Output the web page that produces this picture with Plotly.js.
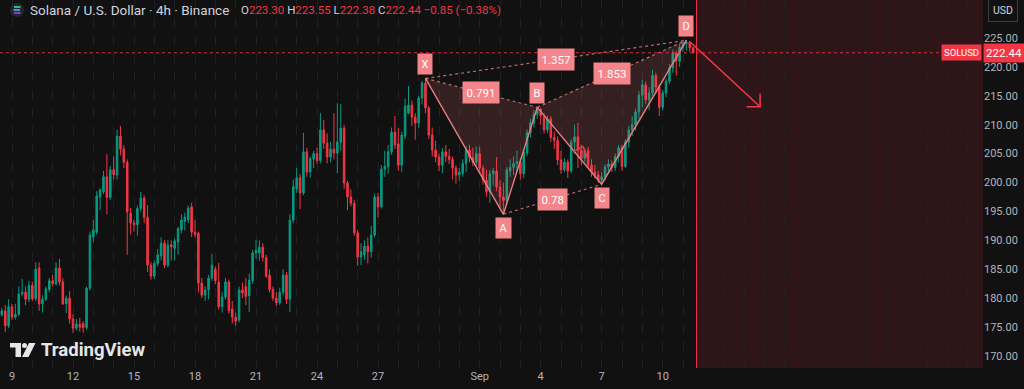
<!DOCTYPE html>
<html>
<head>
<meta charset="utf-8">
<script src="https://cdn.plot.ly/plotly-3.0.1.min.js"></script>
<style>html,body{margin:0;padding:0;background:#111111;}#chart{width:1024px;height:389px;}</style>
</head>
<body>
<div id="chart"></div>
<script>
// ---- Candle data (4h bars, SOL/USD, Binance) ----
const startUTC = Date.UTC(2025, 7, 8, 4, 0); // first bar: 2025-08-08 04:00
const barHours = 4;

const opens = [175.8,175.0,177.1,177.8,175.2,178.5,176.7,177.2,180.7,181.0,179.8,182.2,179.9,185.2,179.0,179.8,181.5,183.0,182.5,185.2,
182.8,179.0,180.0,176.4,174.8,175.5,175.6,174.9,181.7,190.6,191.4,197.5,198.4,201.0,197.4,202.2,201.3,208.0,205.8,203.5,
194.7,193.0,192.7,195.5,197.3,194.0,185.7,183.8,186.0,187.3,189.5,185.7,189.2,188.6,189.7,191.8,193.3,193.5,195.8,191.4,
191.2,182.6,180.5,181.4,183.5,185.0,182.8,178.5,180.2,182.8,178.1,176.7,176.2,181.4,182.0,180.4,183.0,187.8,187.8,188.8,
187.0,184.0,181.5,180.0,179.2,181.0,184.0,179.8,193.5,198.9,200.8,198.2,205.3,201.8,204.1,205.0,203.8,209.1,206.8,204.4,
205.8,205.1,207.0,209.4,199.9,197.5,196.4,191.3,187.1,187.5,189.0,188.0,190.9,197.5,195.8,202.3,202.7,205.3,208.7,206.7,
203.0,208.0,212.0,213.4,211.3,210.3,214.6,217.2,212.9,208.2,205.6,204.4,203.0,205.3,204.5,204.0,202.5,201.3,201.6,203.3,
205.6,204.3,203.5,205.0,202.5,200.4,198.4,201.5,202.0,199.2,197.5,196.9,202.0,202.6,203.3,203.6,201.5,205.1,208.6,210.3,
211.8,212.7,211.5,209.1,211.0,207.8,207.3,203.9,202.2,203.5,202.0,207.0,207.9,205.6,204.2,205.5,203.0,201.8,201.3,200.4,
201.0,202.7,203.2,202.6,204.5,206.0,202.8,207.0,209.1,210.0,212.2,215.1,216.9,214.3,215.5,218.5,216.5,213.0,215.5,217.5,
219.8,222.4,221.0,223.4,224.0,224.3,223.30];
const highs = [176.3,179.0,178.3,178.8,179.8,179.0,179.0,182.0,183.3,182.0,183.0,182.8,186.2,186.2,180.5,182.0,183.5,184.0,186.2,186.8,
183.5,180.4,181.2,177.2,176.4,176.6,176.0,182.0,191.5,193.5,198.5,199.0,202.0,204.9,202.8,204.5,209.1,209.8,206.5,204.0,
195.6,193.5,196.0,198.4,197.8,196.1,186.2,186.5,188.5,190.5,190.0,190.0,190.0,190.3,192.3,194.5,194.8,196.0,196.5,193.5,
191.5,183.5,182.0,184.0,187.7,185.5,186.1,181.0,183.5,183.2,179.5,177.5,182.0,182.7,183.5,184.2,188.3,190.0,190.0,189.5,
187.5,185.0,182.0,181.0,181.8,185.0,184.5,194.5,200.5,202.5,201.5,208.6,206.0,204.5,205.5,206.0,212.0,210.8,208.5,207.0,
212.0,213.7,213.6,210.0,200.3,198.8,197.0,191.8,189.5,190.0,190.5,192.5,198.0,198.2,203.0,205.5,206.5,209.5,211.5,209.4,
208.8,214.5,216.7,214.2,212.0,215.0,217.6,218.0,213.2,209.5,207.2,205.0,206.0,206.5,205.8,204.5,203.0,202.5,204.0,206.3,
206.5,206.0,206.2,206.2,203.0,202.2,202.2,202.5,204.4,200.4,200.0,202.7,204.0,204.5,205.5,204.2,205.8,209.2,211.0,212.5,
213.0,212.8,212.0,211.6,211.5,208.8,208.0,205.5,204.2,204.0,207.5,210.0,210.3,206.5,206.0,206.2,204.0,203.0,202.0,201.8,
203.2,204.0,203.8,205.0,206.5,206.5,207.5,209.8,211.5,212.8,215.8,217.8,217.5,216.5,219.5,219.0,217.0,216.0,218.0,220.5,
223.0,222.8,224.0,224.4,224.6,224.5,223.55];
const lows = [174.7,172.8,176.8,174.1,174.8,176.2,176.3,176.9,180.3,178.8,179.3,179.5,179.5,177.8,177.5,179.5,181.0,182.0,182.2,182.2,
178.8,177.4,175.6,174.0,174.4,174.2,174.0,174.5,181.3,189.7,191.0,195.2,198.0,194.5,197.0,200.5,200.5,204.7,202.5,187.5,
191.0,191.5,190.8,195.0,193.0,184.5,183.2,183.3,185.5,186.5,185.2,185.3,186.5,186.5,187.5,191.2,191.7,193.0,190.6,190.5,
181.0,180.0,179.5,179.8,183.0,182.4,178.0,177.5,179.8,177.3,175.6,175.2,175.8,180.0,178.8,177.6,182.5,186.8,186.5,186.3,
183.5,181.0,179.5,178.6,178.8,180.5,179.0,177.6,193.0,198.2,195.4,197.8,201.0,200.8,202.5,203.3,203.3,205.8,203.3,203.5,
204.0,201.6,205.5,198.9,195.2,195.9,190.8,185.6,185.7,186.6,186.0,187.0,190.5,194.0,195.5,201.0,201.5,204.8,205.8,202.0,
201.8,207.5,211.8,209.8,207.4,209.5,213.5,212.0,207.5,204.5,203.5,202.0,201.6,203.5,203.2,200.5,199.8,200.3,201.0,201.8,
203.5,202.8,203.0,201.5,199.6,197.5,196.5,199.5,198.5,195.5,194.5,196.5,201.0,201.3,201.8,200.5,200.8,204.6,207.8,209.5,
211.0,210.0,208.5,208.5,207.0,205.8,203.0,201.5,201.8,200.8,201.6,205.0,202.5,203.0,203.5,202.5,201.0,200.7,199.9,199.7,
200.3,201.5,201.8,202.0,203.5,202.0,202.5,206.0,208.0,209.0,211.0,213.0,213.5,212.5,215.0,215.5,211.5,212.5,214.8,217.0,
219.0,218.5,220.0,222.6,222.8,222.6,222.38];
const closes = [175.0,177.3,177.8,175.2,178.5,176.7,177.2,180.7,181.0,179.8,182.2,179.9,185.0,179.0,179.8,181.6,183.0,182.5,185.2,182.8,
179.0,180.0,176.4,174.8,175.5,175.0,174.9,181.7,190.9,191.8,197.7,198.7,201.0,197.4,202.2,201.4,208.0,205.8,203.5,194.9,
193.0,192.7,195.5,197.3,194.0,185.7,183.8,186.0,187.5,189.5,185.7,189.2,188.9,189.9,192.0,193.5,194.0,195.6,191.4,191.0,
182.6,180.5,181.4,183.5,185.7,183.0,178.5,180.2,182.8,177.8,176.7,176.0,181.4,180.9,180.3,183.1,187.8,188.3,188.8,187.0,
183.8,181.5,180.0,179.2,181.0,184.0,179.8,193.5,199.3,200.8,198.2,205.3,201.8,204.1,205.0,203.8,209.1,206.8,204.4,205.8,
205.1,207.0,209.4,199.9,197.5,196.4,191.3,187.1,188.0,189.0,188.0,190.9,197.5,195.8,202.3,202.8,205.3,208.7,206.5,203.0,
208.2,213.2,213.4,211.3,210.3,214.6,217.2,212.9,208.2,205.6,204.4,203.0,205.3,204.5,204.0,202.5,201.3,201.8,203.3,205.6,
204.3,203.5,205.0,202.5,200.4,198.4,201.5,202.0,199.2,197.5,196.9,202.2,202.6,203.3,203.6,201.5,205.3,208.6,210.3,211.8,
212.7,211.5,209.1,211.0,207.8,207.3,203.9,202.2,203.5,202.0,207.0,207.9,205.6,204.2,205.5,203.0,201.8,201.3,200.4,201.0,
202.7,203.2,202.6,204.5,206.0,202.8,207.0,209.1,210.0,212.2,215.1,216.9,214.3,215.5,218.5,216.5,213.0,215.5,217.5,219.8,
222.4,221.0,223.4,224.0,224.3,223.3,222.44];

// ---- Harmonic (XABCD) pattern points ----
const patLabels = ['X','A','B','C','D'];
const patTimes  = ['2025-08-29 08:00','2025-09-02 04:00','2025-09-03 20:00','2025-09-07 00:00','2025-09-11 04:00'];
const patPrices = [218.0, 194.5, 213.0, 199.7, 224.6];
const patLabelSide = [1,-1,1,-1,1];
// ratio lines: [fromIndex, toIndex, label]
const ratioFrom = [0, 1, 2, 0];
const ratioTo   = [2, 3, 4, 4];
const ratioText = ['0.791','0.78','1.853','1.357'];

// small caret drawing and projection arrow
const caretTimes = ['2025-09-05 14:00','2025-09-06 02:00','2025-09-06 08:00'];
const caretPrices = [205.3, 206.2, 204.0];
const arrowTimes = ['2025-09-11 08:30','2025-09-14 19:00'];
const arrowPrices = [224.3, 213.1];
const arrowHeadTimes = ['2025-09-14 03:00','2025-09-14 19:00','2025-09-14 19:00'];
const arrowHeadPrices = [213.1, 213.1, 215.4];
const zoneStart = '2025-09-11 16:00';
const zoneEnd = '2025-10-05 00:00';
const lastPrice = 222.44;

// ---- Axis ticks ----
const xTickVals = ['2025-08-09','2025-08-12','2025-08-15','2025-08-18','2025-08-21','2025-08-24','2025-08-27','2025-09-01','2025-09-04','2025-09-07','2025-09-10'];
const xTickText = ['9','12','15','18','21','24','27','Sep','4','7','10'];
const yTickVals = [170,175,180,185,190,195,200,205,210,215,220,225];
const xRange = ['2025-08-08 09:50','2025-09-25 18:06'];
const yRange = [167.91, 231.57];

// ---- Build ----
function fmt(ms){
  const d = new Date(ms);
  const p = n => String(n).padStart(2,'0');
  return d.getUTCFullYear()+'-'+p(d.getUTCMonth()+1)+'-'+p(d.getUTCDate())+' '+p(d.getUTCHours())+':'+p(d.getUTCMinutes());
}
const times = opens.map((_, i) => fmt(startUTC + i*barHours*3600000));
function toMs(s){ const [a,b]=s.split(' '); const [Y,M,D]=a.split('-').map(Number); const [h,m]=(b||'00:00').split(':').map(Number); return Date.UTC(Y,M-1,D,h,m); }
function mid(i,j){ return fmt((toMs(patTimes[i])+toMs(patTimes[j]))/2); }

const UP='#089981', DOWN='#f23645';
const PAT='#ea7d80', PATFILL='rgba(235,110,115,0.16)', LBL='#f4858a';

const traces = [];
traces.push({
  type:'candlestick', x:times, open:opens, high:highs, low:lows, close:closes,
  increasing:{line:{color:UP,width:1}, fillcolor:UP},
  decreasing:{line:{color:DOWN,width:1}, fillcolor:DOWN},
  whiskerwidth:0, hoverinfo:'skip', showlegend:false
});
// filled triangles
traces.push({type:'scatter', mode:'lines', x:[patTimes[0],patTimes[1],patTimes[2],patTimes[0]], y:[patPrices[0],patPrices[1],patPrices[2],patPrices[0]], fill:'toself', fillcolor:PATFILL, line:{width:0}, hoverinfo:'skip', showlegend:false});
traces.push({type:'scatter', mode:'lines', x:[patTimes[2],patTimes[3],patTimes[4],patTimes[2]], y:[patPrices[2],patPrices[3],patPrices[4],patPrices[2]], fill:'toself', fillcolor:PATFILL, line:{width:0}, hoverinfo:'skip', showlegend:false});
// solid legs
traces.push({type:'scatter', mode:'lines', x:patTimes, y:patPrices, line:{color:PAT,width:1.4}, hoverinfo:'skip', showlegend:false});
// dotted ratio lines
ratioFrom.forEach((f,k)=>{
  const t = ratioTo[k];
  traces.push({type:'scatter', mode:'lines', x:[patTimes[f],patTimes[t]], y:[patPrices[f],patPrices[t]], line:{color:PAT,width:1.2,dash:'dot'}, opacity:0.8, hoverinfo:'skip', showlegend:false});
});
// caret drawing
traces.push({type:'scatter', mode:'lines', x:caretTimes, y:caretPrices, line:{color:DOWN,width:1.5}, hoverinfo:'skip', showlegend:false});
// projection arrow
traces.push({type:'scatter', mode:'lines', x:arrowTimes, y:arrowPrices, line:{color:DOWN,width:1.6}, hoverinfo:'skip', showlegend:false});
traces.push({type:'scatter', mode:'lines', x:arrowHeadTimes, y:arrowHeadPrices, line:{color:DOWN,width:1.6}, hoverinfo:'skip', showlegend:false});

const annotations = [];
patLabels.forEach((lb,i)=>{
  annotations.push({x:patTimes[i], y:patPrices[i], xref:'x', yref:'y', text:lb, showarrow:false,
    yshift: patLabelSide[i]*14, font:{family:'Roboto, sans-serif', size:11, color:'#ffffff'},
    bgcolor:LBL, borderpad:3.5});
});
ratioFrom.forEach((f,k)=>{
  const t = ratioTo[k];
  annotations.push({x:mid(f,t), y:(patPrices[f]+patPrices[t])/2, xref:'x', yref:'y', text:ratioText[k], showarrow:false,
    font:{family:'Roboto, sans-serif', size:11.5, color:'#ffffff'}, bgcolor:LBL, borderpad:3.5});
});
// header
annotations.push({xref:'paper', yref:'paper', x:28/983, y:1-10/368, xanchor:'left', yanchor:'middle', showarrow:false,
  text:'Solana / U.S. Dollar · 4h · Binance', font:{family:'Roboto, sans-serif', size:13.5, color:'#d1d4dc'}});
const g = s=>'<span style="color:#d1d4dc">'+s+'</span>', r = s=>'<span style="color:#f23645">'+s+'</span>';
annotations.push({xref:'paper', yref:'paper', x:239/983, y:1-10/368, xanchor:'left', yanchor:'middle', showarrow:false,
  text: g('O')+r('223.30')+' '+g('H')+r('223.55')+' '+g('L')+r('222.38')+' '+g('C')+r('222.44')+' '+r('−0.85 (−0.38%)'),
  font:{family:'Roboto, sans-serif', size:11.5, color:'#d1d4dc'}});
// watermark
annotations.push({xref:'paper', yref:'paper', x:39/983, y:1-350/368, xanchor:'left', yanchor:'middle', showarrow:false,
  text:'<b>TradingView</b>', font:{family:'Roboto, sans-serif', size:18.5, color:'#e6e6e6'}});
// price tags
annotations.push({xref:'paper', yref:'y', x:1, y:lastPrice, xanchor:'left', yanchor:'middle', xshift:0, showarrow:false,
  text:'222.44', font:{family:'Roboto, sans-serif', size:11.5, color:'#ffffff'}, bgcolor:'#f23645', borderpad:2});
annotations.push({xref:'paper', yref:'y', x:1, y:lastPrice, xanchor:'right', yanchor:'middle', xshift:-1, showarrow:false,
  text:'SOLUSD', font:{family:'Roboto, sans-serif', size:9.5, color:'#ffffff'}, bgcolor:'#f23645', borderpad:2});
annotations.push({xref:'paper', yref:'paper', x:1+20/983, y:1-10/368, xanchor:'center', yanchor:'middle', showarrow:false,
  text:'USD', font:{family:'Roboto, sans-serif', size:10.5, color:'#d1d4dc'}, bgcolor:'#111111', bordercolor:'#3b3d45', borderwidth:1, borderpad:4});

const px = v=>v/983, py = v=>1-v/368;
const shapes = [
  {type:'rect', xref:'x', yref:'paper', x0:zoneStart, x1:zoneEnd, y0:0, y1:1, fillcolor:'#2e1618', line:{width:0}, layer:'between'},
  {type:'line', xref:'x', yref:'paper', x0:zoneStart, x1:zoneStart, y0:0, y1:1, line:{color:'#f23645', width:1}},
  {type:'line', xref:'paper', yref:'y', x0:0, x1:1, y0:lastPrice, y1:lastPrice, line:{color:'#f23645', width:1, dash:'dot'}, opacity:0.85},
  // header icon
  {type:'circle', xref:'paper', yref:'paper', x0:px(10), x1:px(24), y0:py(3), y1:py(17), fillcolor:'#24262d', line:{width:0}},
  {type:'line', xref:'paper', yref:'paper', x0:px(14), x1:px(20.5), y0:py(7), y1:py(7), line:{color:'#14f195', width:1.6}},
  {type:'line', xref:'paper', yref:'paper', x0:px(13.5), x1:px(20), y0:py(10), y1:py(10), line:{color:'#6fa8dc', width:1.6}},
  {type:'line', xref:'paper', yref:'paper', x0:px(14), x1:px(20.5), y0:py(13), y1:py(13), line:{color:'#9945ff', width:1.6}},
  // TradingView logo
  {type:'rect', xref:'paper', yref:'paper', x0:px(10), x1:px(21), y0:py(347.5), y1:py(343), fillcolor:'#e6e6e6', line:{width:0}},
  {type:'rect', xref:'paper', yref:'paper', x0:px(15.5), x1:px(21), y0:py(357), y1:py(343), fillcolor:'#e6e6e6', line:{width:0}},
  {type:'circle', xref:'paper', yref:'paper', x0:px(22), x1:px(27), y0:py(348), y1:py(343), fillcolor:'#e6e6e6', line:{width:0}},
  {type:'path', xref:'paper', yref:'paper', path:'M '+px(29)+' '+py(343)+' L '+px(35.5)+' '+py(343)+' L '+px(28.5)+' '+py(357)+' L '+px(22)+' '+py(357)+' Z', fillcolor:'#e6e6e6', line:{width:0}}
];

const layout = {
  width:1024, height:389,
  margin:{l:0, r:41, t:0, b:21, pad:0},
  paper_bgcolor:'#111111', plot_bgcolor:'#111111',
  showlegend:false, hovermode:false, dragmode:false,
  boxgap:0.35,
  xaxis:{type:'date', range:xRange, rangeslider:{visible:false}, tickmode:'array', tickvals:xTickVals, ticktext:xTickText,
    tickfont:{family:'Roboto, sans-serif', size:11, color:'#b2b5be'}, ticks:'', showline:false, zeroline:false,
    showgrid:true, gridcolor:'#1f2026', griddash:'dash', gridwidth:1,
    minor:{dtick:86400000, tick0:'2025-08-09', showgrid:true, gridcolor:'#1f2026', griddash:'dash', ticks:''}},
  yaxis:{side:'right', range:yRange, tickmode:'array', tickvals:yTickVals, tickformat:'.2f',
    tickfont:{family:'Roboto, sans-serif', size:11, color:'#b2b5be'}, ticks:'', ticklen:0, showgrid:false, zeroline:false, showline:false},
  annotations, shapes
};
Plotly.newPlot('chart', traces, layout, {staticPlot:true, displayModeBar:false});
</script>
</body>
</html>
